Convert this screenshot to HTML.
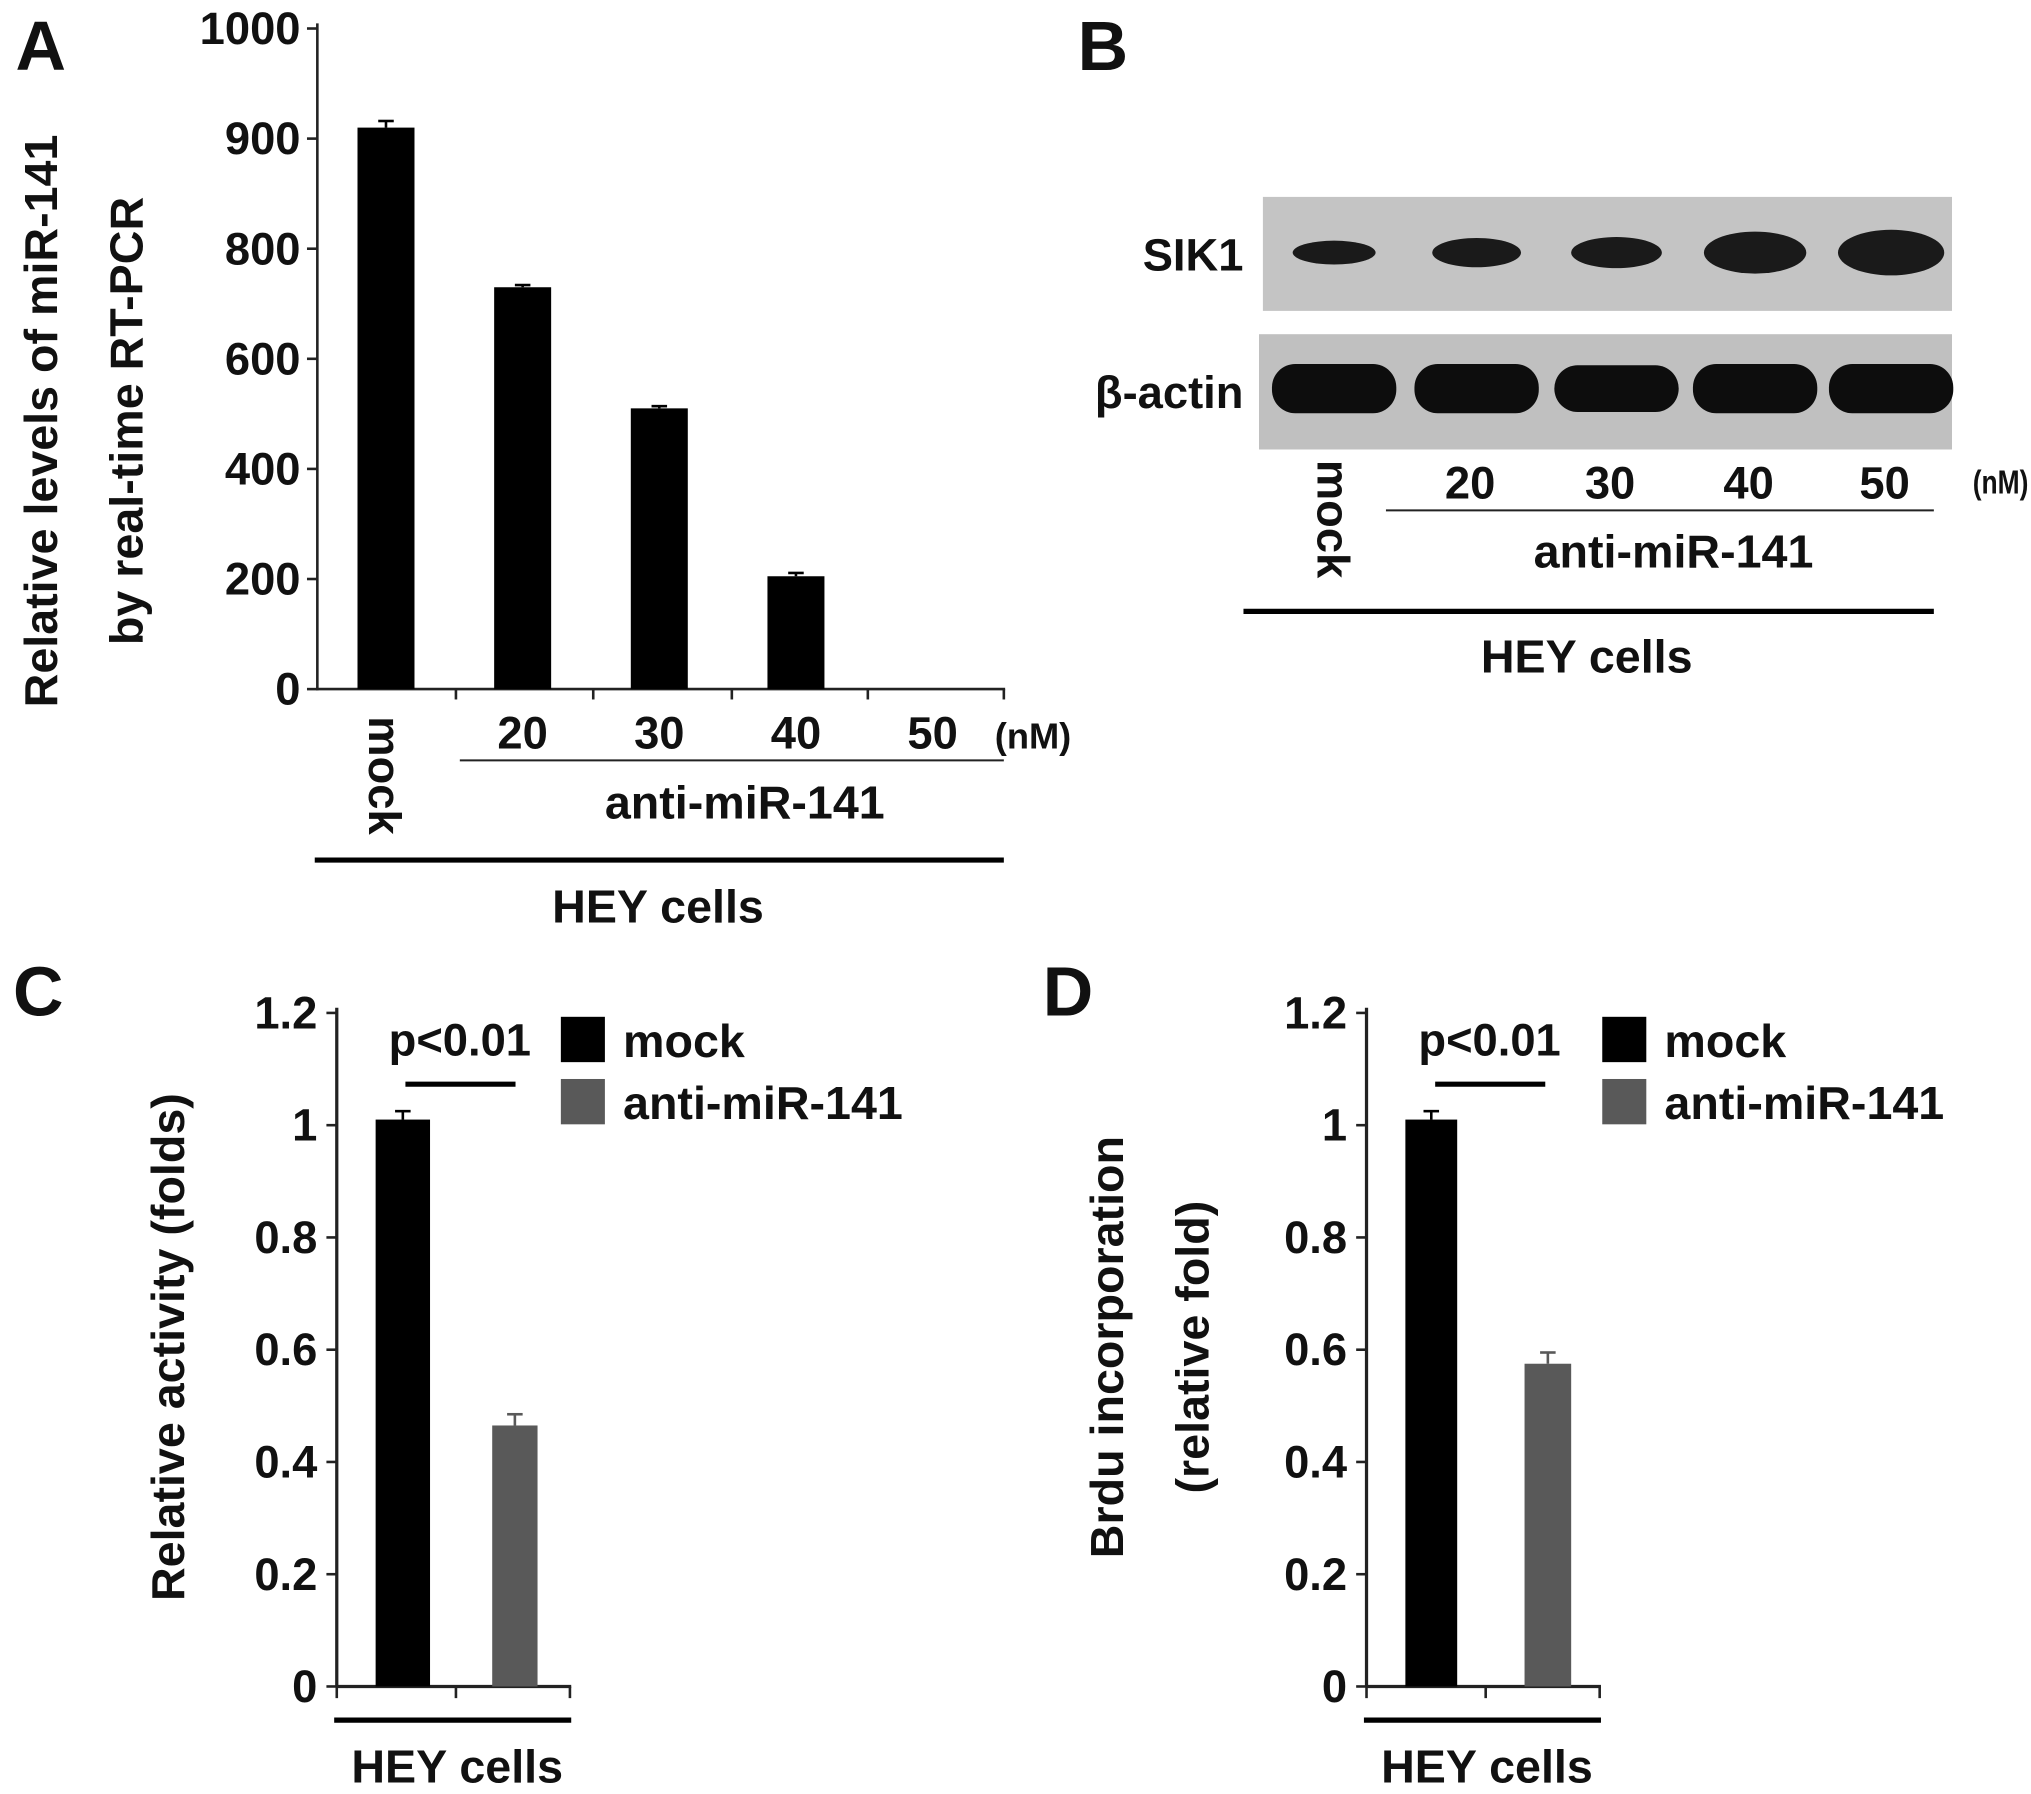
<!DOCTYPE html>
<html><head><meta charset="utf-8"><style>
html,body{margin:0;padding:0;background:#fff}
svg{display:block}
text{font-family:"Liberation Sans",Arial,sans-serif;font-weight:bold;fill:#111}
</style></head><body>
<svg id="fig" width="2031" height="1794" viewBox="0 0 1568 1385" xmlns="http://www.w3.org/2000/svg">
<g id="pA"></g>
<g id="pB"></g>
<g id="pC"></g>
<g id="pD"></g>
</svg>
<script>
// Panel A data
const aCategories = ["mock","20","30","40","50"];
const aValues = [910, 730, 510, 205, 0];
const aErrors = [6, 4, 4, 6, 0];
const aTickLabels = [1000, 900, 800, 600, 400, 200, 0];
// Panel B data (band intensity: relative thickness)
const bLanes = ["mock","20","30","40","50"];
const bSik1 = [0.3, 0.45, 0.5, 0.8, 0.9];
const bActin = [1, 1, 0.95, 1, 1];
// Panel C data
const cSeries = ["mock","anti-miR-141"];
const cValues = [1.01, 0.465];
const cErrors = [0.015, 0.02];
// Panel D data
const dValues = [1.01, 0.575];
const dErrors = [0.015, 0.02];
const cdTicks = [0, 0.2, 0.4, 0.6, 0.8, 1, 1.2];

const NS = "http://www.w3.org/2000/svg";
function mk(parent, tag, attrs, txt){
  const e = document.createElementNS(NS, tag);
  for (const k in attrs) e.setAttribute(k, attrs[k]);
  if (txt !== undefined) e.textContent = txt;
  parent.appendChild(e); return e;
}
function txt(p, x, y, s, size, anchor, name, extra){
  const a = {x:x, y:y, "font-size":size, "text-anchor":anchor||"middle"};
  if (extra) for (const k in extra) a[k]=extra[k];
  const t = mk(p, "text", a, s);
  
  
  return t;
}

// ---------- Panel A ----------
(function(){
  const g = document.getElementById("pA");
  const y0 = 532, step = 85;
  const tickPos = aTickLabels.map((v,i)=> 22 + i*step);
  function yA(v){
    for (let i=0;i<aTickLabels.length-1;i++){
      const a=aTickLabels[i], b=aTickLabels[i+1];
      if (v<=a && v>=b) return tickPos[i] + (a-v)/(a-b)*(tickPos[i+1]-tickPos[i]);
    }
    return y0;
  }
  txt(g, 12, 54, "A", 54, "start", "panel-a-label");
  const ax = mk(g,"line",{x1:245,y1:18,x2:245,y2:533,stroke:"#222","stroke-width":2});
   
  aTickLabels.forEach((v,i)=>{
    const y = tickPos[i];
    mk(g,"line",{x1:237,y1:y,x2:245,y2:y,stroke:"#222","stroke-width":2});
    txt(g, 232, y+12, String(v), 35, "end", "y-tick-label");
  });
  const xa = mk(g,"line",{x1:244,y1:532,x2:776,y2:532,stroke:"#222","stroke-width":2});
   
  [352,458,565,670,775].forEach(x=>mk(g,"line",{x1:x,y1:532,x2:x,y2:540,stroke:"#222","stroke-width":2}));
  const cx0 = 298, dx = 105.5, bw = 44;
  aCategories.forEach((c,i)=>{
    const cx = cx0 + i*dx, top = yA(aValues[i]);
    if (aValues[i] > 0){
      const r = mk(g,"rect",{x:cx-bw/2,y:top,width:bw,height:y0-top,fill:"#000"});
       
      const et = yA(aValues[i]+aErrors[i]);
      mk(g,"line",{x1:cx,y1:et,x2:cx,y2:top,stroke:"#000","stroke-width":2});
      mk(g,"line",{x1:cx-6,y1:et,x2:cx+6,y2:et,stroke:"#000","stroke-width":2});
    }
    if (i===0) txt(g, 0, 0, "mock", 35, "start", "x-label-mock", {transform:`translate(${cx-13},553) rotate(90)`});
    else txt(g, cx, 578, c, 35, "middle", "x-label-"+c);
  });
  txt(g, 768, 578, "(nM)", 28, "start", "unit-label");
  mk(g,"line",{x1:355,y1:587,x2:775,y2:587,stroke:"#222","stroke-width":1.5});
  txt(g, 575, 632, "anti-miR-141", 36, "middle", "group-label");
  mk(g,"line",{x1:243,y1:664,x2:775,y2:664,stroke:"#000","stroke-width":4});
  txt(g, 508, 712, "HEY cells", 36, "middle", "cell-label");
  txt(g, 0, 0, "Relative levels of miR-141", 36, "middle", "y-axis-title", {transform:"translate(44,325) rotate(-90)"});
  txt(g, 0, 0, "by real-time RT-PCR", 36, "middle", "y-axis-title-2", {transform:"translate(110,325) rotate(-90)"});
})();

// ---------- Panel B ----------
(function(){
  const g = document.getElementById("pB");
  txt(g, 832, 54, "B", 54, "start", "panel-b-label");
  const b1 = mk(g,"rect",{x:975,y:152,width:532,height:88,fill:"#c4c4c4"});
   
  const b2 = mk(g,"rect",{x:972,y:258,width:535,height:89,fill:"#c0c0c0"});
   
  const lx = [1030,1140,1248,1355,1460];
  bLanes.forEach((l,i)=>{
    const h = 10 + bSik1[i]*28, w = 55 + bSik1[i]*30;
    const e = mk(g,"ellipse",{cx:lx[i],cy:195,rx:w/2,ry:h/2,fill:"#1a1a1a"});
     
    const e2 = mk(g,"rect",{x:lx[i]-48,y:300-bActin[i]*19,width:96,height:bActin[i]*38,rx:18,fill:"#0d0d0d"});
     
    if (i===0) txt(g,0,0,"mock",35,"start","lane-label-mock",{transform:`translate(${lx[i]-13},355) rotate(90)`});
    else txt(g, lx[i]-5, 385, l, 35, "middle", "lane-label-"+l);
  });
  txt(g, 960, 209, "SIK1", 35, "end", "sik1-label");
  txt(g, 960, 315, "β-actin", 35, "end", "actin-label");
  txt(g, 1523, 381, "(nM)", 26, "start", "unit-label-b", {textLength:43, lengthAdjust:"spacingAndGlyphs"});
  mk(g,"line",{x1:1070,y1:394,x2:1493,y2:394,stroke:"#222","stroke-width":1.5});
  txt(g, 1292, 438, "anti-miR-141", 36, "middle", "group-label-b");
  mk(g,"line",{x1:960,y1:472,x2:1493,y2:472,stroke:"#000","stroke-width":4});
  txt(g, 1225, 519, "HEY cells", 36, "middle", "cell-label-b");
})();

// ---------- Panels C & D ----------
function barPanel(id, off, vals, errs, letter, titles, mockW, antiW, antiX, legX){
  const g = document.getElementById(id);
  const axX = 260 + off, y0 = 1302, yTop = 782;
  const y = v => y0 - v/1.2*(y0-yTop);
  txt(g, 10+off, 784, letter, 54, "start", "panel-label");
  mk(g,"line",{x1:axX,y1:yTop-4,x2:axX,y2:y0,stroke:"#222","stroke-width":2.5});
  cdTicks.forEach(t=>{
    mk(g,"line",{x1:axX-8,y1:y(t),x2:axX,y2:y(t),stroke:"#222","stroke-width":2});
    txt(g, axX-15, y(t)+12, String(t), 35, "end", "y-tick-label");
  });
  mk(g,"line",{x1:axX,y1:y0,x2:axX+181,y2:y0,stroke:"#222","stroke-width":2.5});
  [axX, axX+92, axX+180].forEach(x=>mk(g,"line",{x1:x,y1:y0,x2:x,y2:y0+9,stroke:"#222","stroke-width":2}));
  const xs = [[axX+30, mockW],[axX+antiX, antiW]];
  const colors = ["#000","#595959"];
  cSeries.forEach((s,i)=>{
    const top = y(vals[i]);
    const r = mk(g,"rect",{x:xs[i][0],y:top,width:xs[i][1],height:y0-top,fill:colors[i]});
     
    const cx = xs[i][0]+xs[i][1]/2, et = y(vals[i]+errs[i]);
    mk(g,"line",{x1:cx,y1:et,x2:cx,y2:top,stroke:colors[i],"stroke-width":2});
    mk(g,"line",{x1:cx-6,y1:et,x2:cx+6,y2:et,stroke:colors[i],"stroke-width":2});
  });
  mk(g,"line",{x1:axX-2,y1:1328,x2:axX+181,y2:1328,stroke:"#000","stroke-width":4});
  txt(g, axX+93, 1376, "HEY cells", 36, "middle", "cell-label");
  txt(g, axX+95, 815, "p<0.01", 35, "middle", "p-value");
  mk(g,"line",{x1:axX+53,y1:837,x2:axX+138,y2:837,stroke:"#000","stroke-width":4});
  const lg = mk(g,"g",{});
   
  const lx = legX;
  cSeries.forEach((s,i)=>{
    const r = mk(lg,"rect",{x:lx,y:785+i*48,width:34,height:35,fill:colors[i]});
     
    txt(lg, lx+48, 816+i*48, s, 36, "start", "legend-entry-"+s);
  });
  titles.forEach((t,i)=>{
    txt(g,0,0,t[0],36,"middle","y-axis-title",{transform:`translate(${t[1]},1040) rotate(-90)`});
  });
}
barPanel("pC", 0, cValues, cErrors, "C", [["Relative activity (folds)",142]], 42, 35, 120, 433);
barPanel("pD", 795, dValues, dErrors, "D", [["Brdu incorporation",867],["(relative fold)",933]], 40, 36, 122, 1237);
</script>
</body></html>
